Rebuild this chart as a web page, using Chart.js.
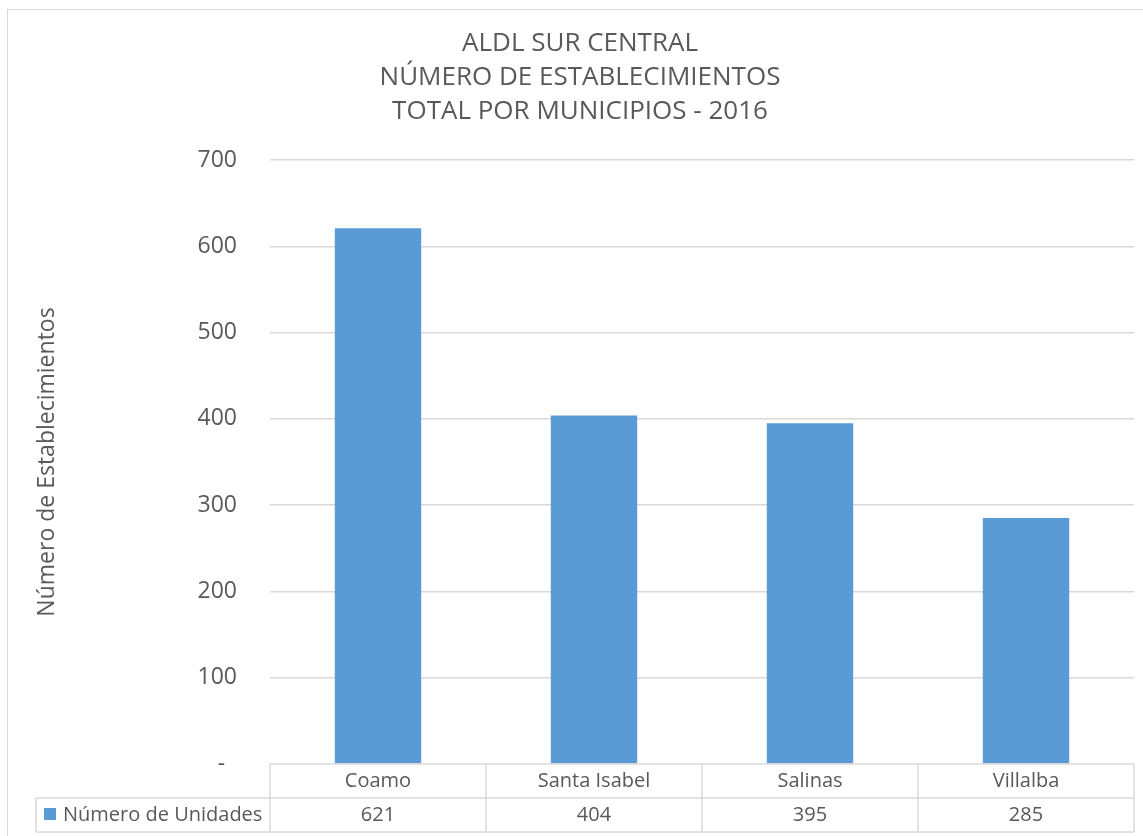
<!DOCTYPE html>
<html>
<head>
<meta charset="utf-8">
<title>ALDL Sur Central - Establecimientos 2016</title>
<script src="https://cdn.jsdelivr.net/npm/chart.js@4/dist/chart.umd.min.js"></script>
<style>
  html, body { margin: 0; padding: 0; background: #fff; overflow: hidden; }
  #marco {
    position: absolute; left: 7px; top: 9px;
    width: 1152px; height: 860px;
    border: 1px solid #d9d9d9; background: #fff;
  }
  #grafica { position: absolute; left: 0; top: 0; }
</style>
</head>
<body>
<div id="marco">
  <canvas id="grafica" width="1150" height="830"></canvas>
</div>
<script>
const titulo = ['ALDL SUR CENTRAL', 'NÚMERO DE ESTABLECIMIENTOS', 'TOTAL POR MUNICIPIOS - 2016'];
const municipios = ['Coamo', 'Santa Isabel', 'Salinas', 'Villalba'];
const unidades = [621, 404, 395, 285];
const serie = 'Número de Unidades';
const ejeY = 'Número de Establecimientos';
const yMax = 700;
const yPaso = 100;

const GRIS = '#595959';
const LINEA = '#d9d9d9';
const AZUL = '#5B9BD5';
const FUENTE = '"Open Sans", "DejaVu Sans", sans-serif';

// tabla de datos debajo del eje X (estilo Excel)
const tablaDatos = {
  id: 'tablaDatos',
  afterDraw(chart) {
    const ctx = chart.ctx;
    const x = chart.scales.x;
    const area = chart.chartArea;
    const fila = 34;
    const y0 = area.bottom, y1 = y0 + fila, y2 = y1 + fila;
    const ancho = (area.right - area.left) / municipios.length;
    const izq = 28;

    ctx.save();
    ctx.strokeStyle = LINEA;
    ctx.lineWidth = 1.5;
    ctx.beginPath();
    ctx.moveTo(area.left, y0); ctx.lineTo(area.right, y0);
    ctx.moveTo(izq, y1); ctx.lineTo(area.right, y1);
    ctx.moveTo(izq, y2); ctx.lineTo(area.right, y2);
    ctx.moveTo(izq, y1); ctx.lineTo(izq, y2);
    for (let i = 0; i <= municipios.length; i++) {
      const xl = area.left + i * ancho;
      ctx.moveTo(xl, y0); ctx.lineTo(xl, y2);
    }
    ctx.stroke();

    ctx.font = '20px ' + FUENTE;
    ctx.fillStyle = GRIS;
    ctx.textAlign = 'center';
    ctx.textBaseline = 'middle';
    municipios.forEach((m, i) => {
      const cx = x.getPixelForValue(i);
      ctx.fillText(m, cx, y0 + fila / 2);
      ctx.fillText(String(unidades[i]), cx, y1 + fila / 2);
    });

    // leyenda en la primera celda
    ctx.fillStyle = AZUL;
    ctx.fillRect(izq + 8, y1 + 10, 12, 12);
    ctx.fillStyle = GRIS;
    ctx.textAlign = 'left';
    ctx.fillText(serie, izq + 27, y1 + fila / 2);
    ctx.restore();
  }
};

new Chart(document.getElementById('grafica'), {
  type: 'bar',
  data: {
    labels: municipios,
    datasets: [{
      label: serie,
      data: unidades,
      backgroundColor: AZUL,
      borderWidth: 0,
      barPercentage: 0.4,
      categoryPercentage: 1
    }]
  },
  options: {
    responsive: false,
    animation: false,
    layout: { padding: { left: 18, right: 24, top: 0, bottom: 76 } },
    plugins: {
      legend: { display: false },
      tooltip: { enabled: false },
      title: {
        display: true,
        text: titulo,
        color: GRIS,
        font: { family: FUENTE, size: 26, weight: 'normal', lineHeight: 34 / 26 },
        padding: { top: 17, bottom: 31 }
      }
    },
    scales: {
      x: { display: false },
      y: {
        min: 0,
        max: yMax,
        border: { display: false },
        grid: {
          color: c => c.tick.value === 0 ? 'rgba(0,0,0,0)' : LINEA,
          lineWidth: 1.5,
          drawTicks: false
        },
        ticks: {
          stepSize: yPaso,
          padding: 33,
          color: GRIS,
          font: { family: FUENTE, size: 23 },
          callback: v => v === 0 ? '-  ' : v
        },
        title: {
          display: true,
          text: ejeY,
          color: GRIS,
          font: { family: FUENTE, size: 23 },
          padding: { top: 8, bottom: 0 }
        },
        afterFit: s => { s.width = 244; }
      }
    }
  },
  plugins: [tablaDatos]
});
</script>
</body>
</html>
